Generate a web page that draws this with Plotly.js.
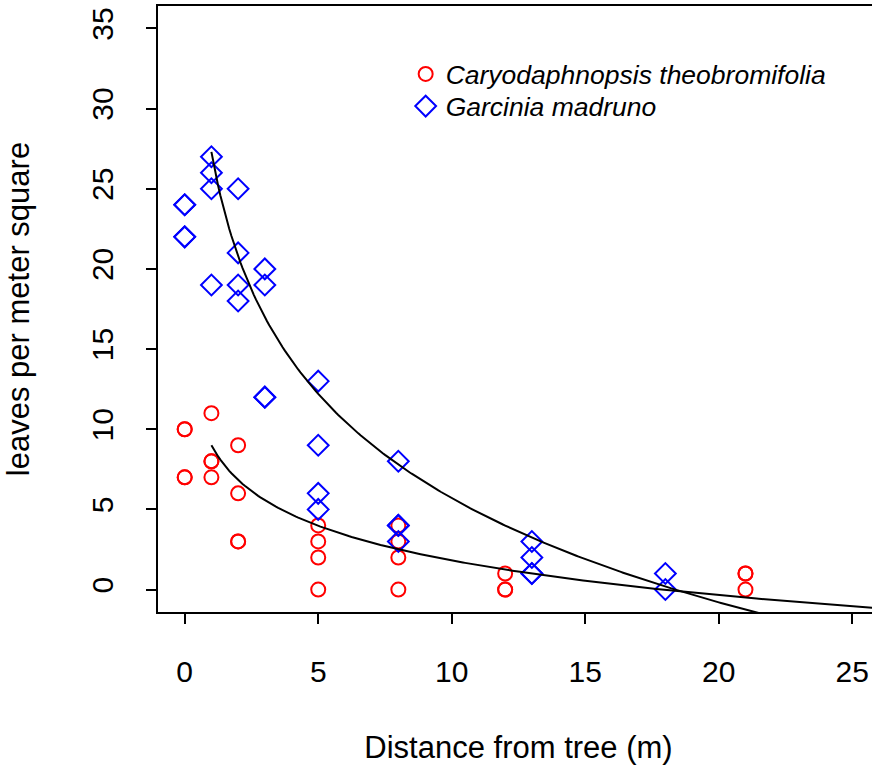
<!DOCTYPE html>
<html><head><meta charset="utf-8">
<script src="https://cdn.plot.ly/plotly-3.0.1.min.js"></script>
<style>html,body{margin:0;padding:0;overflow:hidden;background:#fff}#chart{width:900px;height:770px}</style>
</head><body><div id="chart"></div>
<script>
// Caryodaphnopsis theobromifolia (red circles)
const caryX = [0,0,0,0, 1,1,1,1, 2,2,2,2, 5,5,5,5, 8,8,8,8, 12,12,12, 21,21,21];
const caryY = [10,10,7,7, 11,8,8,7, 9,6,3,3, 4,3,2,0, 4,3,2,0, 1,0,0, 1,1,0];
// Garcinia madruno (blue diamonds)
const garcX = [0,0,0,0, 1,1,1,1, 2,2,2,2, 3,3,3,3, 5,5,5,5, 8,8,8,8, 13,13,13,13, 18,18];
const garcY = [24,24,22,22, 27,26,25,19, 25,21,19,18, 20,19,12,12, 13,9,6,5, 8,4,4,3, 3,2,1,1, 1,0];
// logarithmic fit coefficients y = a + b*ln(x)
const caryFit = {a: 9.0, b: -3.12, from: 1, to: 26};
const garcFit = {a: 27.3, b: -9.38, from: 1, to: 26};
const legendNames = ["<i>Caryodaphnopsis theobromifolia</i>", "<i>Garcinia madruno</i>"];
const xTicks = [0,5,10,15,20,25];
const yTicks = [0,5,10,15,20,25,30,35];

function fitCurve(f){
  const xs=[], ys=[];
  const n=300;
  for(let i=0;i<=n;i++){const x=f.from+(f.to-f.from)*i/n; xs.push(x); ys.push(f.a+f.b*Math.log(x));}
  return {x:xs,y:ys};
}
const c1=fitCurve(caryFit), c2=fitCurve(garcFit);

const font = {family:"Liberation Sans, Arial, sans-serif", color:"#000"};
const data = [
  {x:caryX,y:caryY,type:"scatter",mode:"markers",name:legendNames[0],legend:"legend",
   marker:{symbol:"circle-open",size:14,color:"#ff0000",line:{width:2,color:"#ff0000"}}},
  {x:garcX,y:garcY,type:"scatter",mode:"markers",name:legendNames[1],legend:"legend2",
   marker:{symbol:"diamond-open",size:16,color:"#0000ff",line:{width:2,color:"#0000ff"}}},
  {x:c1.x,y:c1.y,type:"scatter",mode:"lines",showlegend:false,line:{color:"#000",width:2},hoverinfo:"skip"},
  {x:c2.x,y:c2.y,type:"scatter",mode:"lines",showlegend:false,line:{color:"#000",width:2},hoverinfo:"skip"}
];
const legendBase = {xanchor:"left",yanchor:"top",bgcolor:"rgba(0,0,0,0)",
          font:Object.assign({size:26.5},font),itemwidth:30,tracegroupgap:0};
const layout = {
  width:900,height:770,
  margin:{l:158,r:21,t:6,b:158},
  paper_bgcolor:"#fff",plot_bgcolor:"#fff",
  font:Object.assign({size:30},font),
  showlegend:true,
  legend:Object.assign({x:0.3435,y:0.927},legendBase),
  legend2:Object.assign({x:0.3435,y:0.874},legendBase),
  xaxis:{range:[-1,26],tickvals:xTicks,ticktext:xTicks.map(String),showgrid:false,zeroline:false,
         showline:true,mirror:true,linecolor:"#000",linewidth:2,ticks:"outside",ticklen:10,tickwidth:2,tickcolor:"#000",
         ticklabelstandoff:22,tickfont:Object.assign({size:30},font),
         title:{text:"Distance from tree (m)",font:Object.assign({size:31},font),standoff:49}},
  yaxis:{range:[-1.4,36.4],tickvals:yTicks,ticktext:yTicks.map(String),showgrid:false,zeroline:false,
         showline:true,mirror:true,linecolor:"#000",linewidth:2,ticks:"outside",ticklen:10,tickwidth:2,tickcolor:"#000",
         tickangle:-90,ticklabelstandoff:21,tickfont:Object.assign({size:30},font),
         title:{text:"leaves per meter square",font:Object.assign({size:31},font),standoff:47}}
};
Plotly.newPlot("chart",data,layout,{displayModeBar:false,staticPlot:true});
</script></body></html>
